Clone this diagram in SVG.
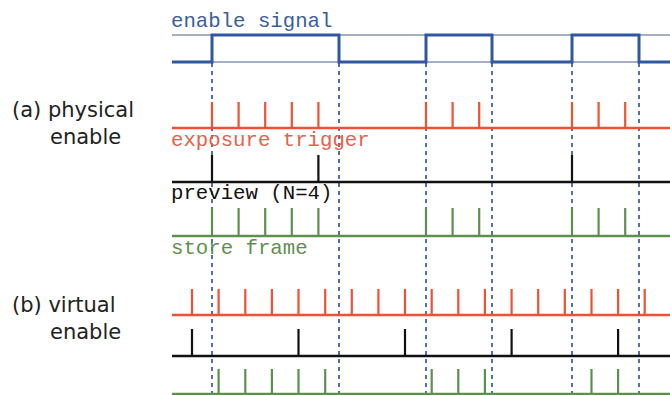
<svg xmlns="http://www.w3.org/2000/svg" width="670" height="395" viewBox="0 0 670 395">
<style>
.mono{font-family:"Liberation Mono","DejaVu Sans Mono",monospace;font-size:20.7px}
.sans{font-family:"DejaVu Sans","Noto Sans",sans-serif;font-size:21px;fill:#222}
.thin{stroke:#4a5f8a;stroke-width:1;fill:none}
.en{stroke:#2f58a0;stroke-width:3;fill:none}
.dash{stroke:#1f3f8f;stroke-width:1.5;stroke-dasharray:4 4}
.red{stroke:#ef5135;fill:none}
.blk{stroke:#111;fill:none}
.grn{stroke:#5f8f4f;fill:none}
.base{stroke-width:2.6}
.pulse{stroke-width:2.2}
</style>
<rect width="670" height="395" fill="#fff"/>
<g id="labels">
<text class="sans" x="12" y="117">(a) physical</text>
<text class="sans" x="50" y="144">enable</text>
<text class="sans" x="12" y="312">(b) virtual</text>
<text class="sans" x="50" y="339">enable</text>
</g>
<g id="enable-signal">
<text class="mono" x="171" y="27" fill="#3a5e9e">enable signal</text>
<line class="thin" x1="172" y1="35" x2="670" y2="35"/>
<line class="thin" x1="172" y1="62" x2="670" y2="62"/>
<path class="en" d="M172 62H212V35H339V62H426V35H492V62H572V35H639V62H670"/>
</g>
<g id="connectors">
<line class="dash" x1="212" y1="63" x2="212" y2="395"/>
<line class="dash" x1="339" y1="63" x2="339" y2="395"/>
<line class="dash" x1="426" y1="63" x2="426" y2="395"/>
<line class="dash" x1="492" y1="63" x2="492" y2="395"/>
<line class="dash" x1="572" y1="63" x2="572" y2="395"/>
<line class="dash" x1="639" y1="63" x2="639" y2="395"/>
</g>
<g id="a-exposure">
<line class="red base" x1="172" y1="128" x2="670" y2="128"/>
<path class="red pulse" d="M212 128V102M238.6 128V102M265.2 128V102M291.8 128V102M318.4 128V102M426 128V102M452.6 128V102M479.2 128V102M572 128V102M598.6 128V102M625.2 128V102"/>
<text class="mono" x="171" y="146" fill="#e8604c">exposure trigger</text>
</g>
<g id="a-preview">
<line class="blk base" x1="172" y1="182" x2="670" y2="182"/>
<path class="blk pulse" d="M212 182V155M318.4 182V155M572 182V155"/>
<text class="mono" x="171" y="199" fill="#111">preview (N=4)</text>
</g>
<g id="a-store">
<line class="grn base" x1="172" y1="236" x2="670" y2="236"/>
<path class="grn pulse" d="M212 236V208M238.6 236V208M265.2 236V208M291.8 236V208M318.4 236V208M426 236V208M452.6 236V208M479.2 236V208M572 236V208M598.6 236V208M625.2 236V208"/>
<text class="mono" x="171" y="254" fill="#5f8f4f">store frame</text>
</g>
<g id="b-exposure">
<line class="red base" x1="172" y1="315" x2="670" y2="315"/>
<path class="red pulse" d="M192 315V289M218.6 315V289M245.3 315V289M271.9 315V289M298.5 315V289M325.2 315V289M351.8 315V289M378.4 315V289M405 315V289M431.7 315V289M458.3 315V289M484.9 315V289M511.6 315V289M538.2 315V289M564.8 315V289M591.5 315V289M618.1 315V289M644.7 315V289"/>
</g>
<g id="b-preview">
<line class="blk base" x1="172" y1="356" x2="670" y2="356"/>
<path class="blk pulse" d="M192 356V329M298.5 356V329M405 356V329M511.6 356V329M618.1 356V329"/>
</g>
<g id="b-store">
<line class="grn base" x1="172" y1="394" x2="670" y2="394"/>
<path class="grn pulse" d="M218.6 394V369M245.3 394V369M271.9 394V369M298.5 394V369M325.2 394V369M431.7 394V369M458.3 394V369M484.9 394V369M591.5 394V369M618.1 394V369"/>
</g>
</svg>
